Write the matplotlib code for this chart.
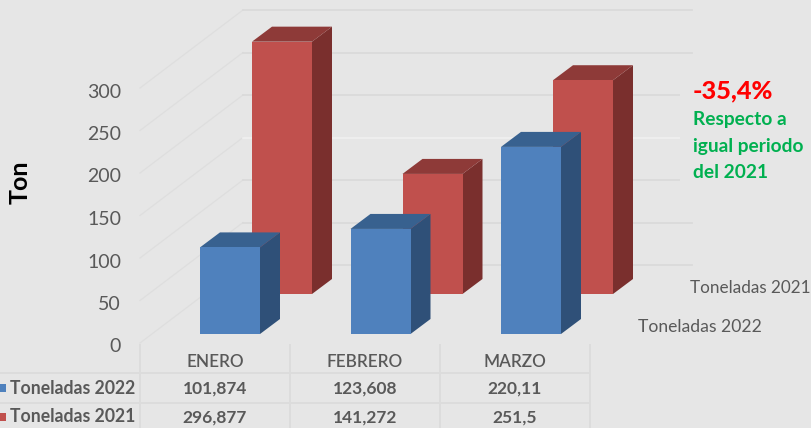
import matplotlib
matplotlib.use('Agg')
import matplotlib.pyplot as plt
from matplotlib.patches import Polygon, Rectangle

plt.rcParams['font.family'] = ['Lato', 'DejaVu Sans']

meses = ['ENERO', 'FEBRERO', 'MARZO']
ton_2022 = [101.874, 123.608, 220.11]
ton_2021 = [296.877, 141.272, 251.5]
txt_2022 = ['101,874', '123,608', '220,11']
txt_2021 = ['296,877', '141,272', '251,5']
ticks = [0, 50, 100, 150, 200, 250, 300]

W, H = 812, 428
BG = '#e6e6e6'
TXT = '#595959'
GRID = '#d9d9d9'

# scale of the picture: one category = 150.5 px, one ton = 0.85 px
CAT = 150.5
TON = 0.85
X0 = 230    # px of first blue bar centre
Y0 = 334    # px of blue bar base


def dx(px):
    return px / CAT


def dy(px):
    return px / TON


def fx(px):
    return px / W


def fy(px):
    return 1 - px / H


fig = plt.figure(figsize=(W / 100, H / 100), dpi=100, facecolor=BG)
ax = fig.add_axes([0, 0, 1, 1])
ax.set_xlim(-X0 / CAT, (W - X0) / CAT)
ax.set_ylim((Y0 - H) / TON, Y0 / TON)
ax.set_axis_off()

# floor corners, relative to the blue bar base line
left_front = (dx(140 - X0), dy(-9))
left_back = (dx(243 - X0), dy(69))
right_end = dx(692 - X0)

for t in ticks:
    c = '#f0f0f0' if t == 150 else GRID
    ax.plot([left_front[0], left_back[0]], [left_front[1] + t, left_back[1] + t],
            color='#dedede', lw=0.9, zorder=1)
    ax.plot([left_back[0], right_end], [left_back[1] + t, left_back[1] + t],
            color=c, lw=1.2, zorder=1)
    fig.text(fx(121), fy(347 - t * TON), str(t), ha='right', va='center',
             fontsize=14, color=TXT)

# the note sits on a plain patch which cuts the grid lines short
ax.add_patch(Rectangle((dx(680 - X0), dy(Y0 - 190)), dx(14), dy(100),
                       facecolor=BG, edgecolor='none', zorder=2))


def bar3d(x, base, value, front, side, top, z):
    w = dx(60)
    ddx = dx(20)
    ddy = dy(15)
    l = x - w / 2
    r = x + w / 2
    t = base + value
    ax.add_patch(Polygon([(r, base), (r + ddx, base + ddy), (r + ddx, t + ddy), (r, t)],
                         facecolor=side, edgecolor='none', zorder=z))
    ax.add_patch(Polygon([(l, t), (l + ddx, t + ddy), (r + ddx, t + ddy), (r, t)],
                         facecolor=top, edgecolor='none', zorder=z))
    ax.add_patch(Rectangle((l, base), w, value, facecolor=front, edgecolor='none', zorder=z))


# back series first
for i, v in enumerate(ton_2021):
    bar3d(i + dx(52), dy(40), v, '#c0504d', '#7a2f2d', '#8e3a38', 3 + i)
for i, v in enumerate(ton_2022):
    bar3d(i, 0, v, '#4f81bd', '#2f5078', '#38618f', 10 + i)

# data table under the chart
for xp in [140, 290, 440, 590]:
    ax.plot([dx(xp - X0)] * 2, [dy(Y0 - 345), dy(Y0 - 428)], color='#dcdcdc', lw=1.4, zorder=1)
for yp in [373, 403]:
    ax.plot([dx(0 - X0), dx(590 - X0)], [dy(Y0 - yp)] * 2, color='#dcdcdc', lw=1.4, zorder=1)

for i, m in enumerate(meses):
    cx = fx(215 + i * 150)
    fig.text(cx, fy(362), m, ha='center', va='center', fontsize=12.3, color=TXT, fontweight='semibold')
    fig.text(cx, fy(389), txt_2022[i], ha='center', va='center', fontsize=12.5, color=TXT, fontweight='bold')
    fig.text(cx, fy(418), txt_2021[i], ha='center', va='center', fontsize=12.5, color=TXT, fontweight='bold')

fig.patches.append(Rectangle((fx(0), fy(392)), fx(6), 8 / H, transform=fig.transFigure,
                             facecolor='#4f81bd', edgecolor='none'))
fig.patches.append(Rectangle((fx(0), fy(421)), fx(6), 8 / H, transform=fig.transFigure,
                             facecolor='#c0504d', edgecolor='none'))
fig.text(fx(10), fy(388), 'Toneladas 2022', ha='left', va='center', fontsize=12.7, color=TXT, fontweight='bold')
fig.text(fx(10), fy(417), 'Toneladas 2021', ha='left', va='center', fontsize=12.7, color=TXT, fontweight='bold')

fig.text(fx(20), fy(182), 'Ton', rotation=90, ha='center', va='center', fontsize=18,
         fontweight='bold', color='black')

# depth axis names
fig.text(fx(690), fy(288), 'Toneladas 2021', ha='left', va='center', fontsize=12.3, color=TXT)
fig.text(fx(638), fy(327), 'Toneladas 2022', ha='left', va='center', fontsize=12.6, color=TXT)

# note
fig.text(fx(693), fy(91), '-35,4%', ha='left', va='center', fontsize=18.3, fontweight='black', color='#ff0000')
for txt, yp in zip(['Respecto a', 'igual periodo', 'del 2021'], [119.5, 146.5, 172.5]):
    fig.text(fx(693), fy(yp), txt, ha='left', va='center', fontsize=13.8, fontweight='bold', color='#00b050')

fig.savefig('out.png', dpi=100, facecolor=BG)
